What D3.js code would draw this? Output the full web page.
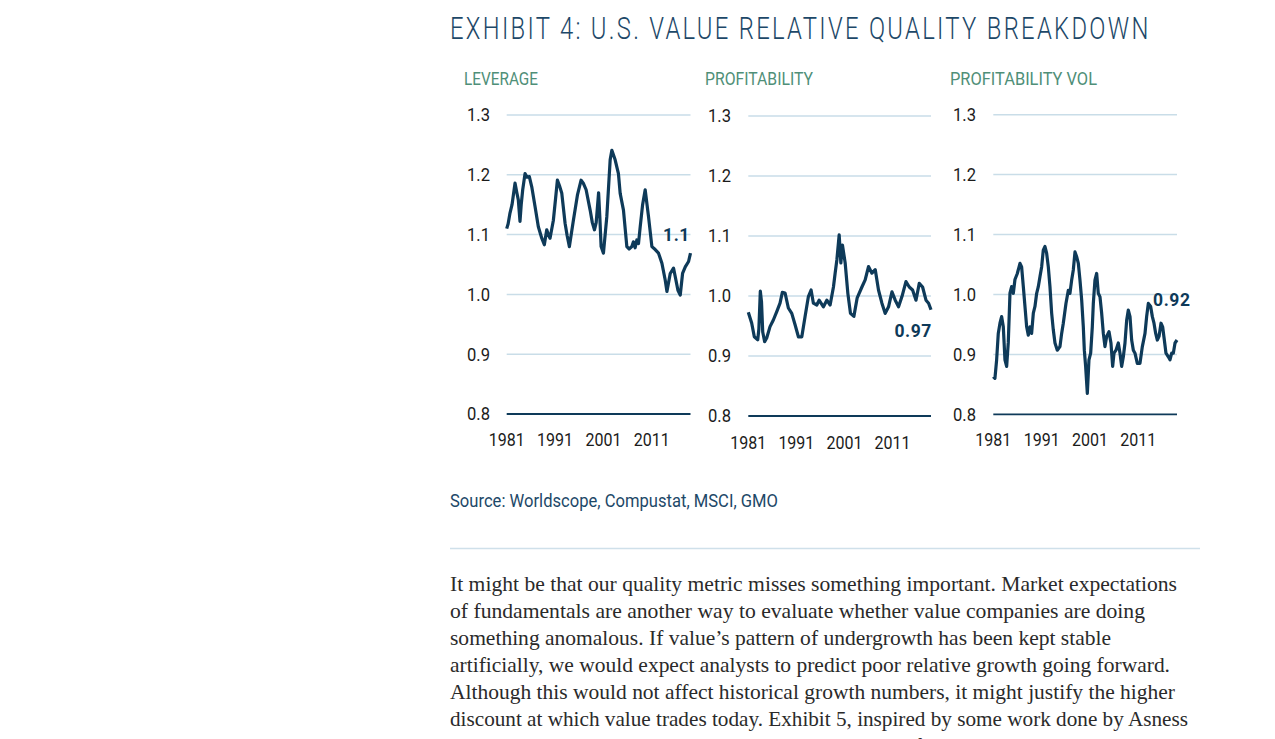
<!DOCTYPE html>
<html><head><meta charset="utf-8">
<script src="https://cdn.jsdelivr.net/npm/d3@7"></script>
<style>body{margin:0;background:#fff;overflow:hidden}</style>
</head><body>
<svg id="c" width="1275" height="739"></svg>
<script>
// ---------- DATA ----------
const chartTitle = "EXHIBIT 4: U.S. VALUE RELATIVE QUALITY BREAKDOWN";
const panelTitles = ["LEVERAGE", "PROFITABILITY", "PROFITABILITY  VOL"];
const yTicks = [0.8, 0.9, 1.0, 1.1, 1.2, 1.3];
const yTickLabels = ["0.8", "0.9", "1.0", "1.1", "1.2", "1.3"];
const xTicks = [1981, 1991, 2001, 2011];
const endLabels = ["1.1", "0.97", "0.92"];
const sourceText = "Source: Worldscope, Compustat, MSCI, GMO";

const leverageYears = [1981.0,1981.3,1981.68,1982.1,1982.72,1983.1,1983.4,1983.75,1984.0,1984.31,1984.79,1985.2,1985.68,1986.18,1986.86,1987.54,1988.25,1988.78,1989.28,1989.6,1989.96,1990.65,1991.1,1991.48,1991.9,1992.39,1993.07,1993.5,1993.96,1994.79,1995.62,1996.38,1996.9,1997.42,1998.25,1998.7,1999.14,1999.5,2000.0,2000.25,2000.52,2001.0,2001.7,2002.39,2002.74,2003.42,2004.1,2004.46,2005.14,2005.84,2006.3,2006.88,2007.2,2007.56,2007.9,2008.25,2008.6,2009.1,2009.63,2010.32,2011.02,2011.7,2012.39,2013.09,2013.77,2014.13,2014.81,2015.49,2015.84,2016.4,2016.88,2017.36,2017.92,2018.6,2019.0];
const leverageValues = [1.110,1.118,1.136,1.150,1.186,1.170,1.158,1.122,1.150,1.175,1.202,1.196,1.197,1.180,1.147,1.113,1.094,1.083,1.108,1.100,1.094,1.124,1.160,1.191,1.182,1.169,1.119,1.098,1.080,1.124,1.166,1.191,1.185,1.175,1.141,1.120,1.108,1.120,1.170,1.130,1.080,1.069,1.130,1.225,1.241,1.225,1.202,1.169,1.141,1.080,1.076,1.080,1.088,1.078,1.091,1.085,1.113,1.150,1.175,1.130,1.080,1.075,1.069,1.052,1.024,1.005,1.035,1.044,1.030,1.007,0.999,1.035,1.046,1.055,1.069];

const profitYears = [1981.0,1981.7,1982.25,1982.96,1983.2,1983.5,1983.75,1984.0,1984.4,1984.83,1985.52,1986.21,1986.92,1987.6,1988.08,1988.65,1989.33,1990.04,1990.73,1991.42,1992.13,1992.81,1993.5,1994.06,1994.54,1995.25,1995.73,1996.63,1997.33,1998.02,1998.71,1999.06,1999.42,1999.9,2000.25,2000.58,2001.15,2001.71,2002.25,2002.96,2003.65,2004.63,2005.31,2006.0,2006.71,2007.4,2008.08,2008.79,2009.48,2010.17,2010.88,2011.56,2012.25,2012.96,2013.79,2014.48,2015.17,2015.88,2016.56,2017.25,2017.96,2018.5,2019.0];
const profitValues = [0.973,0.955,0.932,0.927,0.945,1.008,0.990,0.940,0.924,0.930,0.949,0.960,0.974,0.988,1.006,1.005,0.980,0.971,0.952,0.932,0.932,0.966,0.999,1.010,0.988,0.985,0.993,0.982,0.993,0.985,1.015,1.038,1.060,1.102,1.055,1.085,1.055,1.004,0.971,0.966,0.997,1.015,1.027,1.049,1.038,1.044,1.010,0.988,0.971,0.982,1.007,0.993,0.982,0.999,1.024,1.015,1.010,0.993,1.021,1.015,0.993,0.988,0.977];

const profVolYears = [1981.0,1981.34,1981.69,1982.03,1982.38,1982.72,1983.07,1983.41,1983.76,1984.1,1984.45,1984.79,1985.14,1985.48,1985.97,1986.52,1986.86,1987.21,1987.55,1987.9,1988.24,1988.59,1988.93,1989.28,1989.62,1989.97,1990.31,1990.66,1991.0,1991.34,1991.69,1992.03,1992.38,1992.72,1993.07,1993.41,1993.76,1994.24,1994.79,1995.14,1995.48,1996.03,1996.52,1996.86,1997.21,1997.55,1997.9,1998.24,1998.59,1998.93,1999.28,1999.62,1999.83,2000.1,2000.45,2000.79,2001.14,2001.48,2001.69,2002.03,2002.38,2002.72,2003.07,2003.41,2003.76,2004.1,2004.45,2004.93,2005.34,2005.69,2005.97,2006.38,2006.86,2007.21,2007.55,2007.9,2008.24,2008.59,2008.93,2009.28,2009.62,2009.97,2010.31,2010.79,2011.34,2011.83,2012.38,2012.72,2013.07,2013.55,2013.9,2014.24,2014.59,2014.93,2015.28,2015.69,2016.03,2016.38,2016.72,2017.21,2017.55,2017.9,2018.24,2018.59,2019.0];
const profVolValues = [0.863,0.860,0.891,0.935,0.952,0.963,0.946,0.891,0.880,0.920,1.002,1.013,1.002,1.025,1.035,1.052,1.046,1.013,0.980,0.946,0.932,0.946,0.935,0.969,0.980,1.002,1.013,1.030,1.046,1.074,1.080,1.069,1.046,1.013,0.969,0.941,0.919,0.907,0.913,0.935,0.952,0.985,1.007,1.002,1.024,1.041,1.071,1.063,1.052,1.024,0.991,0.946,0.907,0.880,0.835,0.891,0.902,0.946,0.985,1.024,1.035,1.002,0.996,0.969,0.935,0.913,0.930,0.938,0.919,0.880,0.902,0.907,0.919,0.902,0.880,0.896,0.919,0.957,0.974,0.963,0.924,0.907,0.902,0.885,0.885,0.913,0.935,0.963,0.985,0.980,0.963,0.952,0.935,0.924,0.930,0.952,0.946,0.924,0.902,0.896,0.891,0.902,0.902,0.919,0.924];

const bodyLines = [
  "It might be that our quality metric misses something important. Market expectations",
  "of fundamentals are another way to evaluate whether value companies are doing",
  "something anomalous. If value\u2019s pattern of undergrowth has been kept stable",
  "artificially, we would expect analysts to predict poor relative growth going forward.",
  "Although this would not affect historical growth numbers, it might justify the higher",
  "discount at which value trades today. Exhibit 5, inspired by some work done by Asness",
  "and others, looks at what analysts have been expecting for value relative to growth."
];

// ---------- LAYOUT ----------
const NAVY = "#0e3a59", GRID = "#c9dde8", GREEN = "#4f8f78", TXT = "#1b1b1b";
const svg = d3.select("#c");
svg.append("rect").attr("width",1275).attr("height",739).attr("fill","#fff");

// title: condensed look via horizontal scaling of a letter-spaced light face
const titleG = svg.append("g");
const titleT = titleG.append("text").attr("x",0).attr("y",0).attr("dy","0.36em")
  .attr("font-family","Roboto, sans-serif").attr("font-weight",300).attr("font-size",31)
  .attr("letter-spacing",3).attr("fill","#1d4868").text(chartTitle);
const tw = titleT.node().getComputedTextLength();
titleG.attr("transform",`translate(450,28) scale(${701/tw},1)`);

const layout = [
  {x0:506.7, x1:690.5, yb:414, yt:115, tickX:490, yearY:440, titleX:464, titleW:74,
   years:leverageYears, vals:leverageValues, lab:{x:690, y:235, anchor:"end"}},
  {x0:748.3, x1:931, yb:416, yt:116, tickX:731, yearY:443, titleX:705, titleW:108,
   years:profitYears, vals:profitValues, lab:{x:932, y:331, anchor:"end"}},
  {x0:993.3, x1:1177, yb:414.3, yt:114.7, tickX:976, yearY:440, titleX:950, titleW:147,
   years:profVolYears, vals:profVolValues, lab:{x:1153, y:300, anchor:"start"}}
];

layout.forEach((p,i)=>{
  const g = svg.append("g");
  const x = d3.scaleLinear().domain([1981,2019]).range([p.x0,p.x1]);
  const y = d3.scaleLinear().domain([0.8,1.3]).range([p.yb,p.yt]);

  g.append("text").attr("x",p.titleX).attr("y",79).attr("dy","0.36em")
    .attr("font-family","Roboto, sans-serif").attr("font-size",18).attr("fill",GREEN)
    .attr("textLength",p.titleW).attr("lengthAdjust","spacingAndGlyphs").text(panelTitles[i]);

  g.selectAll("line.grid").data(yTicks).join("line")
    .attr("x1",p.x0).attr("x2",p.x1)
    .attr("y1",d=>y(d)).attr("y2",d=>y(d))
    .attr("stroke",d=>d===0.8?NAVY:GRID).attr("stroke-width",d=>d===0.8?1.8:1.5);

  g.selectAll("text.yt").data(yTicks).join("text")
    .attr("x",p.tickX).attr("y",d=>y(d)).attr("dy","0.36em").attr("text-anchor","end")
    .attr("font-family","Roboto, sans-serif").attr("font-size",18).attr("fill",TXT)
    .attr("textLength",23).attr("lengthAdjust","spacingAndGlyphs")
    .text((d,j)=>yTickLabels[j]);

  g.selectAll("text.xt").data(xTicks).join("text")
    .attr("x",d=>x(d)).attr("y",p.yearY).attr("dy","0.36em").attr("text-anchor","middle")
    .attr("font-family","Roboto, sans-serif").attr("font-size",18).attr("fill",TXT)
    .attr("textLength",36).attr("lengthAdjust","spacingAndGlyphs")
    .text(d=>d);

  const data = p.years.map((yr,k)=>({yr, v:p.vals[k]}));
  g.append("path").datum(data)
    .attr("d", d3.line().x(d=>x(d.yr)).y(d=>y(d.v)))
    .attr("fill","none").attr("stroke",NAVY).attr("stroke-width",3.2).attr("stroke-linejoin","round");

  g.append("text").attr("x",p.lab.x).attr("y",p.lab.y).attr("dy","0.36em")
    .attr("text-anchor",p.lab.anchor)
    .attr("font-family","Roboto, sans-serif").attr("font-weight",700).attr("font-size",17.5)
    .attr("fill",NAVY).attr("letter-spacing",0.6).text(endLabels[i]);
});

svg.append("text").attr("x",450).attr("y",500).attr("dy","0.36em")
  .attr("font-family","Roboto, sans-serif").attr("font-size",19).attr("fill","#1d4868")
  .attr("textLength",328).attr("lengthAdjust","spacingAndGlyphs").text(sourceText);

svg.append("line").attr("x1",450).attr("x2",1200).attr("y1",548.5).attr("y2",548.5)
  .attr("stroke","#cfe0ea").attr("stroke-width",1.5);

const bodyW = [727, 695, 661, 720, 725, 738, 700];
bodyLines.forEach((t,i)=>{
  svg.append("text").attr("x",450).attr("y",591+27*i)
    .attr("font-family","'Liberation Serif', 'DejaVu Serif', serif").attr("font-size",21)
    .attr("fill","#2a2a2a").attr("textLength",bodyW[i]).attr("lengthAdjust","spacingAndGlyphs")
    .text(t);
});
</script>
</body></html>
